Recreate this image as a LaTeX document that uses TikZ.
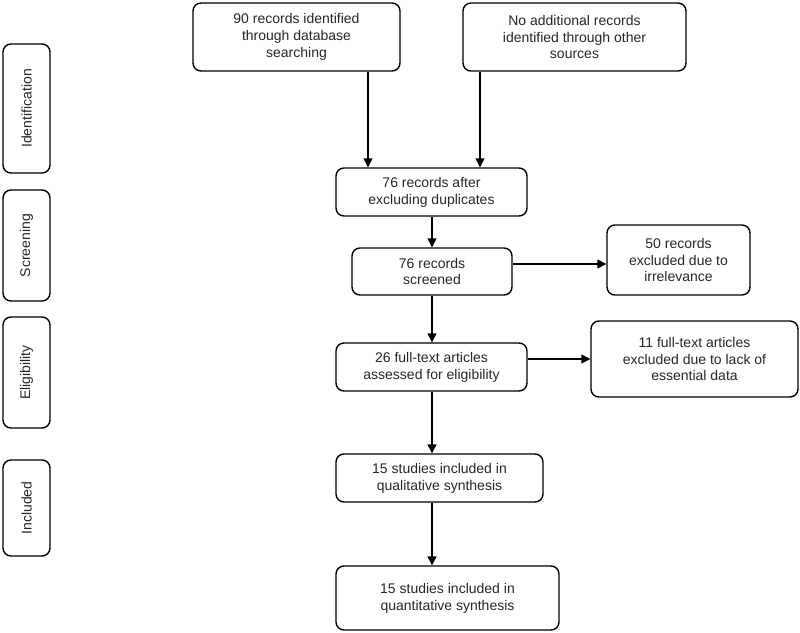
\documentclass[tikz,border=0pt]{standalone}
\usepackage{fontspec}
\setmainfont{Liberation Sans}
\usetikzlibrary{arrows.meta}
\begin{document}
\begin{tikzpicture}[x=1pt,y=-1pt,
  box/.style={draw=black, line width=1.4pt, rounded corners=8pt, align=center, inner sep=0pt,
    font=\fontsize{14}{16.8}\selectfont, text=black!85},
  phase/.style={box, rotate=90, minimum height=47pt},
  arr/.style={draw=black, line width=1.4pt, -{Triangle[width=9pt,length=9pt]}}]
\useasboundingbox (0,0) rectangle (800,632);
% phase labels
\node[phase, minimum width=129pt] (pid) at (26.5,108.5) {Identification};
\node[phase, minimum width=111pt] (psc) at (26.5,245.5) {Screening};
\node[phase, minimum width=111pt] (pel) at (26.5,372.5) {Eligibility};
\node[phase, minimum width=96pt] (pin) at (26.5,508) {Included};
% flow boxes
\node[box, minimum width=207pt, minimum height=68pt] (A) at (296.5,37) {90 records identified\\through database\\searching};
\node[box, minimum width=223pt, minimum height=68pt] (B) at (574.5,37) {No additional records\\identified through other\\sources};
\node[box, minimum width=191pt, minimum height=48pt] (C) at (431.5,192) {76 records after\\excluding duplicates};
\node[box, minimum width=160pt, minimum height=47pt] (D) at (432,271.5) {76 records\\screened};
\node[box, minimum width=143pt, minimum height=70pt] (E) at (678.5,260) {50 records\\excluded due to\\irrelevance};
\node[box, minimum width=191pt, minimum height=48pt] (F) at (431.5,367) {26 full-text articles\\assessed for eligibility};
\node[box, minimum width=207pt, minimum height=76pt] (G) at (694.5,359) {11 full-text articles\\excluded due to lack of\\essential data};
\node[box, minimum width=207pt, minimum height=48pt] (H) at (439.5,478) {15 studies included in\\qualitative synthesis};
\node[box, minimum width=223pt, minimum height=64pt] (I) at (447.5,598) {15 studies included in\\quantitative synthesis};
% helper coordinates
\coordinate (xa) at (368,0);
\coordinate (xb) at (480,0);
\coordinate (xm) at (432,0);
\coordinate (yd) at (0,264);
% connectors
\draw[arr] (A.south -| xa) -- (C.north -| xa);
\draw[arr] (B.south -| xb) -- (C.north -| xb);
\draw[arr] (C.south -| xm) -- (D.north -| xm);
\draw[arr] (D.east |- yd) -- (E.west |- yd);
\draw[arr] (D.south -| xm) -- (F.north -| xm);
\draw[arr] (F.east |- G.west) -- (G.west);
\draw[arr] (F.south -| xm) -- (H.north -| xm);
\draw[arr] (H.south -| xm) -- (I.north -| xm);
\end{tikzpicture}
\end{document}
